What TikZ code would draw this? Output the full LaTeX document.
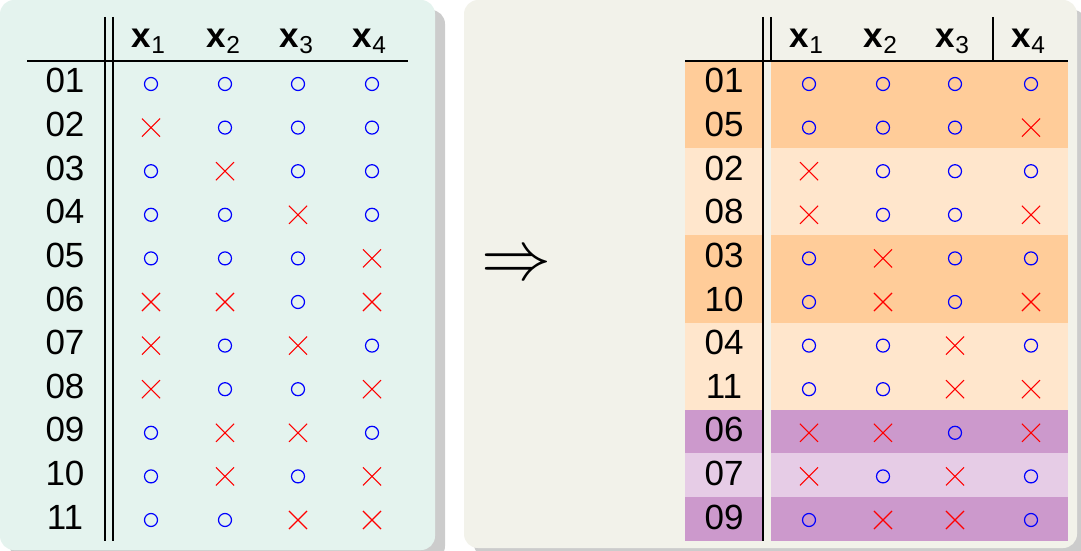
\documentclass[tikz,border=0pt]{standalone}
\usepackage{fontspec}
\setmainfont{Liberation Sans}
\usetikzlibrary{shapes,shadows}
\definecolor{leftbg}{HTML}{E4F3EE}
\definecolor{rightbg}{HTML}{F2F2EA}
\definecolor{orangeA}{HTML}{FFCC99}
\definecolor{orangeB}{HTML}{FFE6CC}
\definecolor{violetA}{HTML}{CC99CC}
\definecolor{violetB}{HTML}{E6CCE6}
\tikzstyle{panel} = [rounded corners=7pt, drop shadow={shadow xshift=5pt, shadow yshift=-5pt, opacity=0.4}]
\tikzstyle{lab} = [anchor=base, inner sep=0pt, font=\fontsize{17.5}{20}\selectfont]
\tikzstyle{obs} = [circle, draw=blue, line width=0.6pt, minimum size=6.5pt, inner sep=0pt]
\tikzstyle{mis} = [cross out, draw=red, line width=0.55pt, minimum size=8.5pt, inner sep=0pt]
\tikzstyle{rule} = [draw, line width=0.6pt]

\begin{document}
\begin{tikzpicture}[x=0.5pt, y=-0.5pt]
    \useasboundingbox (0,0) rectangle (1081,551);
    \path [panel, fill=leftbg] (0,0) rectangle (435,550);
    \path [panel, fill=rightbg] (464,0) rectangle (1077,548);
    % left table
    \foreach \j/\x in {1/149, 2/224, 3/297, 4/370}
        \node [lab] (lx\j) at (\x,48) {\textbf{x}\textsubscript{\j}};
    \foreach \lab/\a/\b/\c/\d [count=\i from 0] in {01/obs/obs/obs/obs, 02/mis/obs/obs/obs, 03/obs/mis/obs/obs, 04/obs/obs/mis/obs, 05/obs/obs/obs/mis, 06/mis/mis/obs/mis, 07/mis/obs/mis/obs, 08/mis/obs/obs/mis, 09/obs/mis/mis/obs, 10/obs/mis/obs/mis, 11/obs/obs/mis/mis} {
        \node [lab] (l\lab) at (65,93+43.6*\i) {\lab};
        \node [\a] (l\lab-1) at (151,84+43.6*\i) {};
        \node [\b] (l\lab-2) at (225,84+43.6*\i) {};
        \node [\c] (l\lab-3) at (298,84+43.6*\i) {};
        \node [\d] (l\lab-4) at (372,84+43.6*\i) {};
    }
    \path [rule] (105,17) -- (105,541);
    \path [rule] (113,17) -- (113,541);
    \path [rule] (27,61) -- (408,61);
    % arrow between the tables
    \node [scale=3.5, inner sep=0pt] (imply) at (516.5,267) {$\Rightarrow$};
    % right table, rows in groups
    \foreach \top/\rows/\col in {0/2/orangeA, 2/2/orangeB, 4/2/orangeA, 6/2/orangeB, 8/1/violetA, 9/1/violetB, 10/1/violetA} {
        \fill [\col] (685,61+43.6*\top) rectangle (763,61+43.6*\top+43.6*\rows);
        \fill [\col] (771,61+43.6*\top) rectangle (1068,61+43.6*\top+43.6*\rows);
    }
    \foreach \j/\x in {1/807, 2/881, 3/953, 4/1029}
        \node [lab] (rx\j) at (\x,48) {\textbf{x}\textsubscript{\j}};
    \foreach \lab/\a/\b/\c/\d [count=\i from 0] in {01/obs/obs/obs/obs, 05/obs/obs/obs/mis, 02/mis/obs/obs/obs, 08/mis/obs/obs/mis, 03/obs/mis/obs/obs, 10/obs/mis/obs/mis, 04/obs/obs/mis/obs, 11/obs/obs/mis/mis, 06/mis/mis/obs/mis, 07/mis/obs/mis/obs, 09/obs/mis/mis/obs} {
        \node [lab] (r\lab) at (724,93+43.6*\i) {\lab};
        \node [\a] (r\lab-1) at (809,84+43.6*\i) {};
        \node [\b] (r\lab-2) at (883,84+43.6*\i) {};
        \node [\c] (r\lab-3) at (955,84+43.6*\i) {};
        \node [\d] (r\lab-4) at (1031,84+43.6*\i) {};
    }
    \path [rule] (763,17) -- (763,541);
    \path [rule] (771,17) -- (771,61);
    \path [rule] (993,17) -- (993,61);
    \path [rule] (685,61) -- (1068,61);
\end{tikzpicture}
\end{document}
